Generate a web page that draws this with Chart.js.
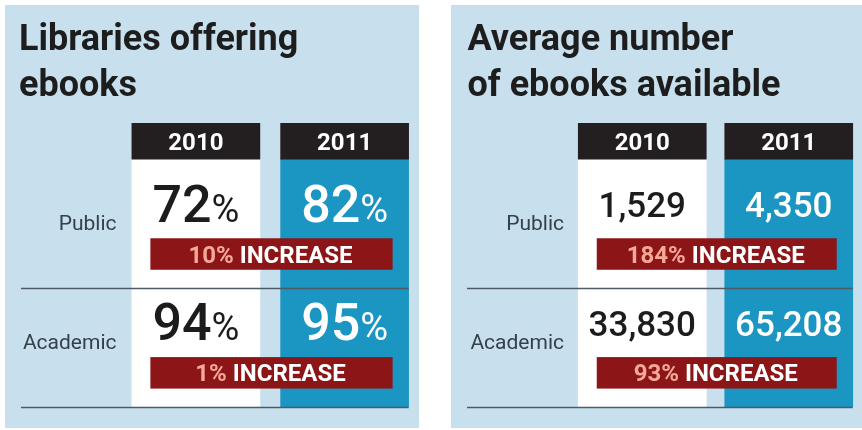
<!DOCTYPE html>
<html>
<head>
<meta charset="utf-8">
<script src="https://cdn.jsdelivr.net/npm/chart.js@4.4.0/dist/chart.umd.min.js"></script>
<style>
  html, body { margin: 0; padding: 0; background: #fff; }
  body { width: 862px; height: 430px; position: relative; overflow: hidden; }
  canvas { position: absolute; top: 5px; background: #c8e0ee; }
  #shareChart { left: 5px; }
  #countChart { left: 451px; }
</style>
</head>
<body>
<canvas id="shareChart" width="414" height="423"></canvas>
<canvas id="countChart" width="411" height="423"></canvas>
<script>
// survey years and library types
var years = ["2010", "2011"];
var libraryTypes = ["Public", "Academic"];

// libraries offering ebooks, percent
var sharePublic = [72, 82];
var shareAcademic = [94, 95];
var shareIncrease = [10, 1];

// average number of ebooks available
var countPublic = [1529, 4350];
var countAcademic = [33830, 65208];
var countIncrease = [184, 93];

var COL_COLORS = ["#ffffff", "#1b95c1"];
var TEXT_COLORS = ["#1c1c1c", "#ffffff"];
var HEAD_COLOR = "#231f20";
var RED = "#8c1518";
var SALMON = "#f6a897";
var RULE = "#4e5b66";

// y runs in row units: header band sits above 0, each row takes one unit
var Y_MIN = -0.39;
var HEAD_END = -0.085;

// values, badges and rules on top of the columns
var tableMarks = {
  id: "tableMarks",
  afterDatasetsDraw: function (chart, args, opts) {
    var ctx = chart.ctx;
    var y = chart.scales.y;
    var cols = chart.getDatasetMeta(1).data;
    var left0 = cols[0].x - cols[0].width / 2;
    var right1 = cols[1].x + cols[1].width / 2;
    var badgeL = left0 + 18.5;
    var badgeR = right1 - 16;

    ctx.save();

    // year labels in the black header boxes
    ctx.font = "bold 24px Roboto";
    ctx.fillStyle = "#fff";
    ctx.textAlign = "center";
    ctx.textBaseline = "alphabetic";
    var headMid = y.getPixelForValue((Y_MIN + HEAD_END) / 2);
    years.forEach(function (yr, i) {
      ctx.fillText(yr, cols[i].x, headMid + 8.5);
    });

    opts.rows.forEach(function (vals, r) {
      // the two year values
      var base = y.getPixelForValue(r + opts.baseline);
      vals.forEach(function (v, i) {
        var num = opts.format(v);
        ctx.font = "500 " + opts.size + "px Roboto";
        var wNum = ctx.measureText(num).width;
        var wUnit = 0;
        if (opts.unit) {
          ctx.font = "400 " + opts.unitSize + "px Roboto";
          wUnit = ctx.measureText(opts.unit).width;
        }
        var x0 = cols[i].x - (wNum + wUnit) / 2;
        ctx.textAlign = "left";
        ctx.fillStyle = TEXT_COLORS[i];
        ctx.font = "500 " + opts.size + "px Roboto";
        ctx.fillText(num, x0, base);
        if (opts.unit) {
          ctx.font = "400 " + opts.unitSize + "px Roboto";
          ctx.fillText(opts.unit, x0 + wNum, base);
        }
      });

      // increase badge
      var top = y.getPixelForValue(r + 0.58);
      var bot = y.getPixelForValue(r + 0.845);
      ctx.fillStyle = RED;
      ctx.fillRect(badgeL, top, badgeR - badgeL, bot - top);

      var pct = opts.increase[r] + "%";
      var word = " INCREASE";
      ctx.font = "bold 24px Roboto";
      var w1 = ctx.measureText(pct).width;
      var w2 = ctx.measureText(word).width;
      var tx = (badgeL + badgeR) / 2 - 1 - (w1 + w2) / 2;
      var ty = (top + bot) / 2 + 8.5;
      ctx.textAlign = "left";
      ctx.fillStyle = SALMON;
      ctx.fillText(pct, tx, ty);
      ctx.fillStyle = "#fff";
      ctx.fillText(word, tx + w1, ty);
    });

    // rules under each row
    ctx.strokeStyle = RULE;
    ctx.lineWidth = 1.5;
    for (var r = 1; r <= opts.rows.length; r++) {
      var py = Math.round(y.getPixelForValue(r)) + 0.5;
      ctx.beginPath();
      ctx.moveTo(16, py);
      ctx.lineTo(right1, py);
      ctx.stroke();
    }

    ctx.restore();
  }
};

function makePanel(id, title, padLeft, axisWidth, marks) {
  var rowCount = libraryTypes.length;
  return new Chart(document.getElementById(id), {
    type: "bar",
    data: {
      labels: years,
      datasets: [
        {
          // header boxes
          data: years.map(function () { return [Y_MIN, HEAD_END]; }),
          backgroundColor: HEAD_COLOR,
          grouped: false,
          barThickness: 128,
        },
        {
          // column fills
          data: years.map(function () { return [HEAD_END, rowCount]; }),
          backgroundColor: COL_COLORS,
          grouped: false,
          barThickness: 128,
        },
      ],
    },
    options: {
      responsive: false,
      animation: false,
      layout: {
        padding: { left: padLeft, right: 0, top: 0, bottom: 21 },
      },
      plugins: {
        legend: { display: false },
        tooltip: { enabled: false },
        title: {
          display: true,
          text: title,
          align: "start",
          color: "#1d1d1d",
          font: { family: "Roboto", size: 36, weight: "bold", lineHeight: 46 / 36 },
          padding: { top: 12.5, bottom: 13.5 },
        },
        tableMarks: marks,
      },
      scales: {
        x: { display: false },
        y: {
          reverse: true,
          min: Y_MIN,
          max: rowCount,
          grid: { display: false, drawTicks: false },
          border: { display: false },
          afterBuildTicks: function (axis) {
            axis.ticks = libraryTypes.map(function (t, i) { return { value: i + 0.47 }; });
          },
          afterFit: function (axis) {
            axis.width = axisWidth;
          },
          ticks: {
            padding: 5,
            color: "#34404a",
            font: { family: "Roboto", size: 21 },
            callback: function (value, index) {
              return libraryTypes[index];
            },
          },
        },
      },
    },
    plugins: [tableMarks],
  });
}

var shareChart = makePanel("shareChart", ["Libraries offering", "ebooks"], 14, 102.5, {
  rows: [sharePublic, shareAcademic],
  increase: shareIncrease,
  format: function (v) { return String(v); },
  unit: "%",
  size: 52,
  unitSize: 38,
  baseline: 0.44,
});

var countChart = makePanel("countChart", ["Average number", "of ebooks available"], 16.5, 101.5, {
  rows: [countPublic, countAcademic],
  increase: countIncrease,
  format: function (v) { return v.toLocaleString("en-US"); },
  unit: "",
  size: 35,
  unitSize: 35,
  baseline: 0.40,
});
</script>
</body>
</html>
